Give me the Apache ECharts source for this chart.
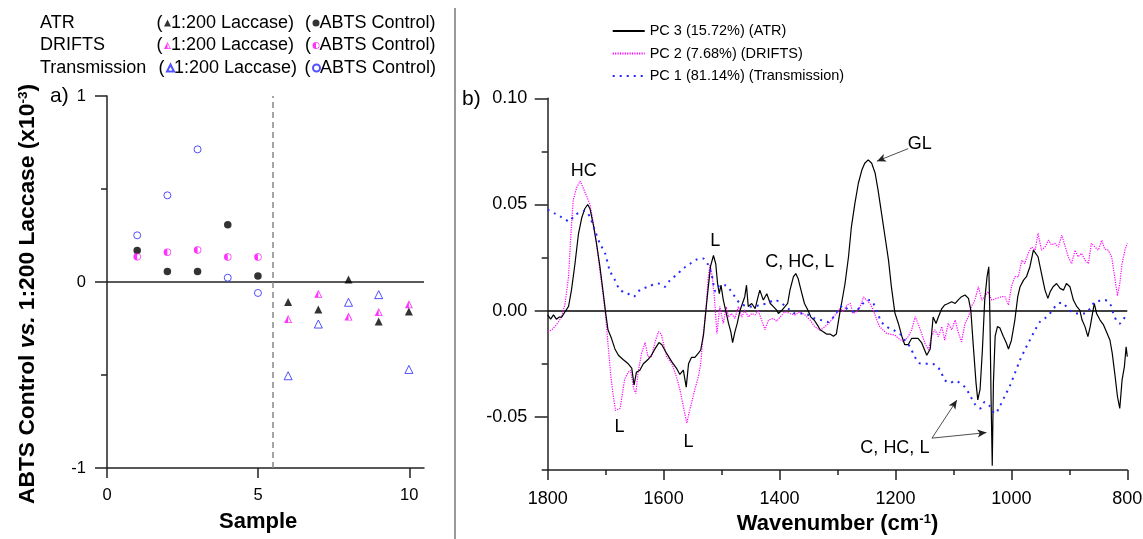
<!DOCTYPE html>
<html>
<head>
<meta charset="utf-8">
</head>
<body style="margin: 0; background: #fff">
<div id="container" style="width: 1143px; height: 539px"></div>
<script src="https://cdn.jsdelivr.net/npm/echarts/dist/echarts.min.js"></script>
<script>
var FONT = '"Liberation Sans", Arial, sans-serif';

// ---- panel a) : scores, ABTS control vs 1:200 laccase (x10^-3)
var controlSamples = [1, 2, 3, 4, 5];
var laccaseSamples = [6, 7, 8, 9, 10];
var atrControl = [0.17, 0.056, 0.056, 0.308, 0.032];
var atrLaccase = [-0.108, -0.148, 0.013, -0.213, -0.158];
var driftsControl = [0.136, 0.16, 0.172, 0.134, 0.134];
var driftsLaccase = [-0.199, -0.063, -0.186, -0.161, -0.12];
var transControl = [0.251, 0.466, 0.713, 0.023, -0.059];
var transLaccase = [-0.504, -0.226, -0.109, -0.068, -0.47];

// ---- panel b) : loadings [wavenumber, loading]
var pc3ATR = [[1800,-0.002],[1795,-0.004],[1790,-0.002],[1785,-0.004],[1780,-0.003],[1776,-0.003],[1770,-0.0005],[1764,0.002],[1759,0.0097],[1753,0.022],[1747,0.036],[1741,0.044],[1736,0.048],[1731,0.050],[1727,0.048],[1721,0.040],[1716,0.032],[1710,0.021],[1704,0.008],[1700,-0.001],[1696,-0.009],[1690,-0.013],[1684,-0.018],[1678,-0.021],[1670,-0.023],[1661,-0.025],[1655,-0.027],[1651,-0.035],[1647,-0.029],[1641,-0.028],[1635,-0.025],[1627,-0.023],[1621,-0.021],[1615,-0.018],[1608,-0.015],[1603,-0.016],[1595,-0.020],[1586,-0.024],[1578,-0.027],[1572,-0.030],[1566,-0.028],[1561,-0.036],[1557,-0.025],[1552,-0.022],[1546,-0.022],[1540,-0.020],[1536,-0.0185],[1531,-0.011],[1527,0.0003],[1523,0.011],[1519,0.021],[1514,0.026],[1510,0.022],[1507,0.013],[1504,0.008],[1501,0.012],[1497,0.005],[1492,-0.001],[1488,-0.006],[1484,-0.010],[1481,-0.015],[1477,-0.010],[1473,-0.006],[1468,0.0003],[1464,0.0034],[1460,0.0066],[1457,0.012],[1454,0.002],[1448,0.0034],[1442,0.001],[1437,0.0066],[1434,0.0097],[1428,0.005],[1422,0.008],[1416,0.0034],[1411,0.002],[1405,0.0003],[1402,-0.0013],[1396,0.0002],[1391,0.0018],[1386,0.0034],[1382,0.0097],[1376,0.016],[1372,0.0175],[1368,0.0152],[1363,0.0097],[1357,0.0034],[1351,0.0002],[1346,-0.003],[1340,-0.0045],[1334,-0.007],[1330,-0.009],[1324,-0.010],[1319,-0.011],[1313,-0.011],[1307,-0.012],[1302,-0.011],[1299,-0.006],[1296,-0.001],[1293,0.0034],[1287,0.0128],[1281,0.0254],[1276,0.0395],[1270,0.0505],[1264,0.060],[1258,0.0662],[1253,0.0694],[1247,0.071],[1241,0.0694],[1235,0.0647],[1230,0.0568],[1224,0.0458],[1218,0.0348],[1212,0.0238],[1207,0.0112],[1201,-0.001],[1195,-0.006],[1189,-0.012],[1184,-0.016],[1178,-0.016],[1172,-0.013],[1166,-0.013],[1161,-0.013],[1155,-0.015],[1149,-0.019],[1146,-0.021],[1140,-0.018],[1135,-0.003],[1130,-0.006],[1126,-0.003],[1120,0.001],[1115,0.0027],[1109,0.0034],[1103,0.0042],[1097,0.0034],[1092,0.005],[1086,0.0066],[1080,0.0074],[1074,0.0058],[1070,0.0003],[1066,-0.0154],[1061,-0.034],[1058,-0.042],[1054,-0.037],[1050,-0.0185],[1046,0.005],[1042,0.016],[1039,0.0207],[1037,-0.003],[1035,-0.042],[1033,-0.073],[1031,-0.034],[1028,-0.012],[1024,-0.0075],[1020,-0.008],[1014,-0.012],[1009,-0.015],[1005,-0.018],[1000,-0.014],[994,-0.0044],[989,0.0066],[985,0.0113],[979,0.0144],[974,0.016],[968,0.0207],[962,0.0285],[959,0.0293],[954,0.0254],[948,0.0175],[942,0.0097],[937,0.0058],[933,0.009],[928,0.0113],[922,0.0128],[916,0.0105],[910,0.0097],[905,0.0128],[899,0.0113],[893,0.005],[887,0.0019],[882,0.0003],[878,-0.0044],[873,-0.0075],[868,-0.0122],[864,-0.0075],[860,-0.0013],[857,0.0034],[853,-0.0013],[847,-0.0044],[841,-0.0067],[836,-0.0099],[830,-0.0138],[826,-0.02],[821,-0.031],[817,-0.0404],[813,-0.046],[809,-0.0326],[805,-0.0263],[802,-0.017],[800,-0.0216]];

var pc2DRIFTS = [[1800,-0.0099],[1793,-0.009],[1785,-0.0067],[1776,-0.003],[1770,0.0034],[1764,0.016],[1760,0.036],[1756,0.052],[1750,0.058],[1744,0.061],[1739,0.058],[1733,0.054],[1727,0.050],[1721,0.041],[1716,0.032],[1710,0.019],[1704,0.0066],[1700,-0.003],[1696,-0.0154],[1691,-0.031],[1687,-0.040],[1683,-0.047],[1675,-0.046],[1670,-0.037],[1667,-0.032],[1661,-0.029],[1657,-0.028],[1652,-0.0365],[1648,-0.039],[1644,-0.029],[1638,-0.020],[1632,-0.015],[1627,-0.0216],[1621,-0.0216],[1615,-0.015],[1609,-0.0099],[1604,-0.011],[1595,-0.0216],[1586,-0.0248],[1578,-0.031],[1572,-0.037],[1566,-0.045],[1560,-0.053],[1556,-0.048],[1552,-0.0436],[1546,-0.037],[1540,-0.031],[1536,-0.025],[1532,-0.0122],[1527,0.0003],[1523,0.016],[1520,0.0215],[1516,0.016],[1512,0.005],[1508,-0.0107],[1505,-0.003],[1503,0.0019],[1497,-0.006],[1492,0.0019],[1488,-0.003],[1483,-0.0013],[1477,-0.0036],[1471,0.0019],[1465,-0.003],[1460,0.0003],[1454,-0.003],[1448,-0.0013],[1442,-0.002],[1437,0.0003],[1431,-0.0044],[1425,-0.009],[1419,-0.0044],[1411,-0.0036],[1405,-0.005],[1399,-0.003],[1391,-0.0005],[1382,-0.0013],[1373,-0.002],[1365,-0.0005],[1356,-0.002],[1347,-0.0045],[1339,-0.0076],[1330,-0.0092],[1322,-0.0076],[1313,-0.0053],[1304,-0.002],[1296,0.001],[1290,-0.0005],[1284,0.0026],[1278,0.0034],[1273,-0.0013],[1267,-0.0005],[1261,0.0018],[1255,0.0065],[1250,0.005],[1244,0.0034],[1238,0.0002],[1232,-0.0045],[1227,-0.0076],[1221,-0.0092],[1215,-0.0108],[1209,-0.011],[1201,-0.0115],[1195,-0.013],[1186,-0.0146],[1178,-0.0122],[1172,-0.009],[1166,-0.0028],[1161,-0.006],[1155,-0.0107],[1149,-0.0154],[1143,-0.0185],[1138,-0.0122],[1132,-0.009],[1126,-0.0122],[1120,-0.0075],[1115,-0.0138],[1109,-0.006],[1103,-0.009],[1097,-0.0044],[1092,-0.0099],[1086,-0.0146],[1080,-0.006],[1074,-0.0028],[1069,0.0019],[1063,0.005],[1057,0.0113],[1051,0.005],[1046,0.0066],[1040,0.009],[1034,0.005],[1025,0.0058],[1017,0.0066],[1011,0.0066],[1005,0.0027],[1000,0.0113],[994,0.016],[988,0.016],[982,0.0238],[977,0.0222],[971,0.027],[965,0.030],[959,0.0285],[954,0.0364],[948,0.0285],[942,0.030],[936,0.0332],[931,0.031],[925,0.0317],[919,0.030],[913,0.0356],[908,0.031],[902,0.0254],[896,0.0222],[890,0.0285],[885,0.0254],[879,0.027],[873,0.0238],[867,0.0222],[862,0.0317],[856,0.030],[850,0.0285],[844,0.0332],[839,0.029],[833,0.0285],[827,0.0254],[821,0.0144],[817,0.007],[813,0.0128],[809,0.0222],[804,0.0285],[800,0.0317]];

var pc1Trans = [[1800,0.0476],[1788,0.0458],[1776,0.044],[1767,0.0425],[1764,0.042],[1753,0.045],[1744,0.0464],[1736,0.047],[1727,0.044],[1719,0.038],[1710,0.0317],[1701,0.027],[1693,0.019],[1684,0.0144],[1675,0.0097],[1664,0.0085],[1652,0.0066],[1641,0.0097],[1627,0.0113],[1609,0.0128],[1598,0.0113],[1589,0.0144],[1578,0.0168],[1566,0.0199],[1554,0.0222],[1543,0.0241],[1532,0.0246],[1523,0.0215],[1517,0.0168],[1510,0.009],[1503,0.012],[1494,0.012],[1485,0.0097],[1477,0.0066],[1468,0.0034],[1457,0.0022],[1445,0.0019],[1434,0.0027],[1422,0.0034],[1408,0.005],[1396,0.0034],[1385,0.001],[1373,-0.0013],[1362,-0.0013],[1350,-0.002],[1339,-0.0037],[1327,-0.0045],[1316,-0.0053],[1307,-0.003],[1299,0.0002],[1290,0.0026],[1281,0.0002],[1270,-0.0005],[1261,0.0018],[1253,0.0042],[1244,0.005],[1238,0.0034],[1232,-0.0005],[1224,-0.0053],[1215,-0.0076],[1204,-0.009],[1192,-0.011],[1184,-0.0138],[1175,-0.017],[1166,-0.022],[1158,-0.0248],[1149,-0.025],[1140,-0.025],[1132,-0.0255],[1123,-0.028],[1115,-0.0326],[1106,-0.034],[1097,-0.033],[1089,-0.034],[1080,-0.036],[1071,-0.040],[1063,-0.044],[1054,-0.046],[1046,-0.043],[1037,-0.045],[1028,-0.0485],[1020,-0.045],[1011,-0.040],[1002,-0.035],[994,-0.0295],[985,-0.0232],[977,-0.0185],[968,-0.0138],[959,-0.009],[950,-0.005],[942,-0.0036],[931,-0.0005],[922,0.0027],[913,0.0038],[905,0.0019],[896,-0.0005],[884,-0.0013],[873,-0.0013],[864,0.0011],[856,0.0042],[847,0.0047],[839,0.005],[830,0.0034],[824,-0.0013],[818,-0.005],[813,-0.006],[807,-0.0044],[803,-0.002]];

// band labels [text, wavenumber, loading] and arrows [from, to]
var bandLabels = [['HC', 1738, 0.0656], ['L', 1511, 0.033], ['C, HC, L', 1365, 0.0228], ['GL', 1158, 0.0786],
                  ['L', 1676, -0.055], ['L', 1557, -0.0616], ['C, HC, L', 1201, -0.0645]];
var bandArrows = [[[1178, 0.0763], [1232, 0.0704]], [[1137, -0.060], [1094, -0.0421]], [[1137, -0.060], [1043, -0.0574]]];

var HALF_CIRCLE = 'path://M0,5A5,5,0,1,1,10,5A5,5,0,1,1,0,5ZM1,5A4,4,0,1,0,9,5A4,4,0,1,0,1,5ZM5,10A5,5,0,0,1,5,0Z';
var HALF_TRIANGLE = 'path://M0,10L5,0L10,10ZM1.7,9.1L8.3,9.1L5,2.3ZM0,10L5,0L5,10Z';
var BLUE = '#2626ff', MAGENTA = '#ff00ff', AXIS = '#222';

function zip(xs, ys) {
    return xs.map(function (x, i) { return [x, ys[i]]; });
}

var dom = document.getElementById('container');
var myChart = echarts.init(dom, null, {renderer: 'canvas'});

var axisLine = {show: true, onZero: false, lineStyle: {color: AXIS, width: 1.5}};
var tickStyle = {color: AXIS, width: 1.5};

var scoreSeries = [
    {name: 'ATR 1:200 Laccase', data: zip(laccaseSamples, atrLaccase), symbol: 'triangle', symbolSize: 8,
     itemStyle: {color: '#000'}},
    {name: 'DRIFTS 1:200 Laccase', data: zip(laccaseSamples, driftsLaccase), symbol: HALF_TRIANGLE, symbolSize: 8,
     itemStyle: {color: MAGENTA}},
    {name: 'Transmission 1:200 Laccase', data: zip(laccaseSamples, transLaccase), symbol: 'triangle', symbolSize: 8,
     itemStyle: {color: '#fff', borderColor: BLUE, borderWidth: 1}},
    {name: 'ATR ABTS Control', data: zip(controlSamples, atrControl), symbol: 'circle', symbolSize: 7.5,
     itemStyle: {color: '#000'}},
    {name: 'DRIFTS ABTS Control', data: zip(controlSamples, driftsControl), symbol: HALF_CIRCLE, symbolSize: 7.5,
     itemStyle: {color: MAGENTA}},
    {name: 'Transmission ABTS Control', data: zip(controlSamples, transControl), symbol: 'circle', symbolSize: 7,
     itemStyle: {color: '#fff', borderColor: BLUE, borderWidth: 1}}
].map(function (s) {
    s.type = 'scatter';
    s.xAxisIndex = 0;
    s.yAxisIndex = 0;
    s.z = 3;
    s.emphasis = {disabled: true};
    return s;
});

// zero line and the dashed divider of panel a)
scoreSeries[0].markLine = {
    silent: true, symbol: 'none', z: 1, label: {show: false},
    data: [
        {yAxis: 0, lineStyle: {color: AXIS, width: 1.5, type: 'solid'}},
        {xAxis: 5.5, lineStyle: {color: '#888', width: 1.5, type: [6, 4]}}
    ]
};

// left legend: one small legend per marker, row labels drawn as text
var legendRows = [
    {label: 'ATR', y: 23, lac: 'ATR 1:200 Laccase', ctl: 'ATR ABTS Control', lx: 164, cx: 312.5},
    {label: 'DRIFTS', y: 45.5, lac: 'DRIFTS 1:200 Laccase', ctl: 'DRIFTS ABTS Control', lx: 164, cx: 312.5},
    {label: 'Transmission', y: 68, lac: 'Transmission 1:200 Laccase', ctl: 'Transmission ABTS Control', lx: 166, cx: 312}
];

var legends = [];
var graphics = [];
legendRows.forEach(function (r) {
    [[r.lac, r.lx], [r.ctl, r.cx]].forEach(function (item) {
        legends.push({
            data: [item[0]], left: item[1], top: r.y - 9, padding: 0,
            itemWidth: 7, itemHeight: 7, selectedMode: false,
            formatter: function (name) {
                return name.indexOf('Laccase') > -1 ? '1:200 Laccase)' : 'ABTS Control)';
            },
            textStyle: {fontSize: 18, lineHeight: 18, fontFamily: FONT, color: '#000', padding: [0, 0, 0, -5]}
        });
        graphics.push({type: 'text', x: item[1] - 7.5, y: r.y,
            style: {text: '(', fontSize: 18, fontFamily: FONT, fill: '#000', align: 'left', verticalAlign: 'middle'}});
    });
    graphics.push({type: 'text', x: 40, y: r.y,
        style: {text: r.label, fontSize: 18, fontFamily: FONT, fill: '#000', align: 'left', verticalAlign: 'middle'}});
});

legends.push({
    data: ['PC 3 (15.72%) (ATR)', 'PC 2 (7.68%) (DRIFTS)', 'PC 1 (81.14%) (Transmission)'],
    orient: 'vertical', left: 611.7, top: 23, padding: 0,
    itemWidth: 32, itemHeight: 16, itemGap: 6.5, selectedMode: false,
    itemStyle: {color: 'transparent', borderWidth: 0, opacity: 0},
    textStyle: {fontSize: 14.5, lineHeight: 16, fontFamily: FONT, color: '#000'}
});

graphics.push(
    {type: 'text', x: 50, y: 96, style: {text: 'a)', fontSize: 21, fontFamily: FONT, fill: '#000', align: 'left', verticalAlign: 'middle'}},
    {type: 'text', x: 462, y: 99, style: {text: 'b)', fontSize: 21, fontFamily: FONT, fill: '#000', align: 'left', verticalAlign: 'middle'}},
    {type: 'line', shape: {x1: 455, y1: 8, x2: 455, y2: 539}, style: {stroke: '#777', lineWidth: 1.5}}
);

var titleStyle = {fontSize: 22, fontWeight: 'bold', fontFamily: FONT, color: '#000'};
var titleRich = {
    i: {fontSize: 22, fontWeight: 'bold', fontStyle: 'italic', fontFamily: FONT, color: '#000'},
    s: {fontSize: 13, fontWeight: 'bold', fontFamily: FONT, color: '#000', verticalAlign: 'top'}
};
var yTitleStyle = {fontSize: 22.8, fontWeight: 'bold', fontFamily: FONT, color: '#000', padding: [0, 24, 0, 0],
    rich: {
        i: {fontSize: 22.8, fontWeight: 'bold', fontStyle: 'italic', fontFamily: FONT, color: '#000'},
        s: {fontSize: 13.5, fontWeight: 'bold', fontFamily: FONT, color: '#000', verticalAlign: 'top'}
    }};

option = {
    animation: false,
    backgroundColor: '#fff',
    textStyle: {fontFamily: FONT, color: '#000'},
    legend: legends,
    graphic: graphics,
    grid: [
        {left: 107, top: 96, width: 317, height: 372, containLabel: false, outerBoundsMode: 'none'},
        {left: 107, top: 96, width: 302.3, height: 372, containLabel: false, outerBoundsMode: 'none'},
        {left: 547.7, top: 98.3, width: 579.6, height: 371.7, containLabel: false, outerBoundsMode: 'none'},
        {left: 547.7, top: 98.3, width: 579.6, height: 318.6, containLabel: false, outerBoundsMode: 'none'}
    ],
    xAxis: [
        {gridIndex: 0, type: 'value', min: 0, max: 10.5, axisLine: axisLine,
         axisTick: {show: false}, axisLabel: {show: false}, splitLine: {show: false}},
        {gridIndex: 1, type: 'value', min: 0, max: 10, interval: 5,
         axisLine: {show: false, onZero: false}, axisTick: {show: true, length: 10, lineStyle: tickStyle},
         axisLabel: {fontSize: 16.5, margin: 19, color: '#000', fontFamily: FONT}, splitLine: {show: false},
         name: 'Sample', nameLocation: 'middle', nameGap: 43, nameTextStyle: titleStyle},
        {gridIndex: 2, type: 'value', inverse: true, min: 800, max: 1800, interval: 200,
         axisLine: axisLine, axisTick: {show: true, length: 10, lineStyle: tickStyle},
         minorTick: {show: true, splitNumber: 2, length: 5, lineStyle: tickStyle},
         axisLabel: {fontSize: 18, margin: 20, color: '#000', fontFamily: FONT,
                     formatter: function (v) { return String(v); }},
         splitLine: {show: false}, minorSplitLine: {show: false},
         name: 'Wavenumber (cm{s|-1})', nameLocation: 'middle', nameGap: 39,
         nameTextStyle: Object.assign({rich: titleRich}, titleStyle)},
        {gridIndex: 3, type: 'value', min: 800, max: 1800, show: false}
    ],
    yAxis: [
        {gridIndex: 0, type: 'value', min: -1, max: 1, interval: 1, axisLine: axisLine,
         axisTick: {show: true, length: 12, lineStyle: tickStyle},
         minorTick: {show: true, splitNumber: 2, length: 6, lineStyle: tickStyle},
         axisLabel: {fontSize: 16.5, margin: 21, color: '#000', fontFamily: FONT},
         splitLine: {show: false}, minorSplitLine: {show: false},
         name: 'ABTS Control {i|vs.} 1:200 Laccase (x10{s|-3})', nameLocation: 'middle', nameGap: 68,
         nameTextStyle: yTitleStyle},
        {gridIndex: 1, type: 'value', min: -1, max: 1, show: false},
        {gridIndex: 2, type: 'value', min: -0.075, max: 0.1, interval: 0.025, axisLine: axisLine,
         axisTick: {show: true, length: 6, lineStyle: tickStyle}, axisLabel: {show: false},
         splitLine: {show: false}},
        {gridIndex: 3, type: 'value', min: -0.05, max: 0.1, interval: 0.05,
         axisLine: {show: false, onZero: false}, axisTick: {show: true, length: 13, lineStyle: tickStyle},
         axisLabel: {fontSize: 18, margin: 20.5, color: '#000', fontFamily: FONT,
                     formatter: function (v) { return v.toFixed(2); }},
         splitLine: {show: false}}
    ],
    series: scoreSeries.concat([
        {
            name: 'PC 2 (7.68%) (DRIFTS)', type: 'line', xAxisIndex: 2, yAxisIndex: 2,
            data: pc2DRIFTS, symbol: 'none', z: 2, emphasis: {disabled: true},
            itemStyle: {color: MAGENTA},
            lineStyle: {color: MAGENTA, width: 1.2, type: [1.2, 1.2]},
            markLine: {
                silent: true, symbol: 'none', z: 1, label: {show: false},
                data: [{yAxis: 0, lineStyle: {color: '#000', width: 1.5, type: 'solid'}}]
            }
        },
        {
            name: 'PC 3 (15.72%) (ATR)', type: 'line', xAxisIndex: 2, yAxisIndex: 2,
            data: pc3ATR, symbol: 'none', z: 3, emphasis: {disabled: true},
            itemStyle: {color: '#000'},
            lineStyle: {color: '#000', width: 1.2, type: 'solid'},
            markLine: {
                silent: true, symbol: ['none', 'arrow'], symbolSize: [6, 9], label: {show: false},
                lineStyle: {color: '#222', width: 0.8, type: 'solid'},
                data: bandArrows.map(function (a) {
                    return [{coord: a[0]}, {coord: a[1]}];
                })
            },
            markPoint: {
                silent: true, symbol: 'circle', symbolSize: 0,
                itemStyle: {color: 'transparent'},
                label: {show: true, position: 'inside', fontSize: 18, fontFamily: FONT, color: '#000',
                        formatter: function (p) { return p.name; }},
                data: bandLabels.map(function (b) {
                    return {name: b[0], coord: [b[1], b[2]]};
                })
            }
        },
        {
            name: 'PC 1 (81.14%) (Transmission)', type: 'line', xAxisIndex: 2, yAxisIndex: 2,
            data: pc1Trans, symbol: 'none', smooth: 0.3, z: 4, emphasis: {disabled: true},
            itemStyle: {color: BLUE},
            lineStyle: {color: BLUE, width: 2, type: [2, 5]}
        }
    ])
};

if (option && typeof option === 'object') {
    myChart.setOption(option, true);
}
</script>
</body>
</html>
